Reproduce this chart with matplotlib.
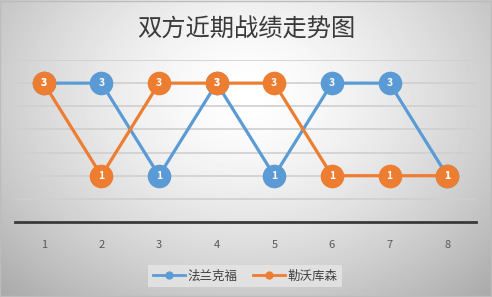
import numpy as np
import matplotlib.pyplot as plt

plt.rcParams['font.family'] = ['Noto Sans CJK SC', 'DejaVu Sans']

title = '双方近期战绩走势图'
matches = [1, 2, 3, 4, 5, 6, 7, 8]
frankfurt = [3, 3, 1, 3, 1, 3, 3, 1]
leverkusen = [3, 1, 3, 3, 3, 1, 1, 1]
series_names = ['法兰克福', '勒沃库森']
colors = ['#5B9BD5', '#ED7D31']

fig = plt.figure(figsize=(4.92, 2.97), dpi=100)

# radial gray background
bg = fig.add_axes([0, 0, 1, 1], zorder=-10)
yy, xx = np.mgrid[0:297, 0:492]
r = np.sqrt(((xx - 246) / 320.0) ** 2 + ((yy - 95) / 250.0) ** 2)
shade = 1.0 - 0.29 * np.clip(r, 0, 1.2) ** 1.5
bg.imshow(shade, cmap='gray', vmin=0, vmax=1, aspect='auto',
          extent=[0, 1, 0, 1], origin='upper')
bg.set_xlim(0, 1)
bg.set_ylim(0, 1)
bg.axis('off')
bg.add_patch(plt.Rectangle((0.001, 0.002), 0.997, 0.995, fill=False,
                           edgecolor='#bcbcbc', lw=1))

ax = fig.add_axes([15 / 492, 1 - 222 / 297, 461 / 492, (222 - 60) / 297])
ax.set_facecolor('none')
ax.set_xlim(0.5, 8.5)
ax.set_ylim(0, 3.5)

for g in np.arange(0.5, 3.51, 0.5):
    ax.axhline(g, color='#cfcfcf', lw=1.2, zorder=1)
ax.axhline(0, color='#3a3a3a', lw=2, zorder=2, clip_on=False)

for vals, name, c in zip([frankfurt, leverkusen], series_names, colors):
    ax.plot(matches, vals, color=c, lw=2.3, marker='o', markersize=17,
            markeredgewidth=0, label=name, zorder=3)
    for x, v in zip(matches, vals):
        ax.text(x, v, str(v), color='white', fontsize=7.5, fontweight='bold',
                ha='center', va='center', zorder=4)

for s in ax.spines.values():
    s.set_visible(False)
ax.set_yticks([])
ax.set_xticks(matches)
ax.set_xticklabels([str(m) for m in matches], fontsize=8, color='#595959')
ax.tick_params(axis='x', length=0, pad=13)

fig.text(0.5, 1 - 30 / 297, title, ha='center', va='center',
         fontsize=17.5, color='#3a3a3a')

handles, labels = ax.get_legend_handles_labels()
leg = fig.legend(handles, labels, loc='center', bbox_to_anchor=(245 / 492, 1 - 276 / 297),
                 ncol=2, frameon=True, fontsize=9, handlelength=2.6,
                 columnspacing=1.2, handletextpad=0.2, borderpad=0.35,
                 labelcolor='#404040', markerscale=0.35)
leg.get_frame().set_facecolor('#e6e6e6')
leg.get_frame().set_edgecolor('none')
leg.get_frame().set_boxstyle('square', pad=0)
for h in leg.legend_handles:
    h.set_linewidth(2)

fig.savefig('out.png', dpi=100)
